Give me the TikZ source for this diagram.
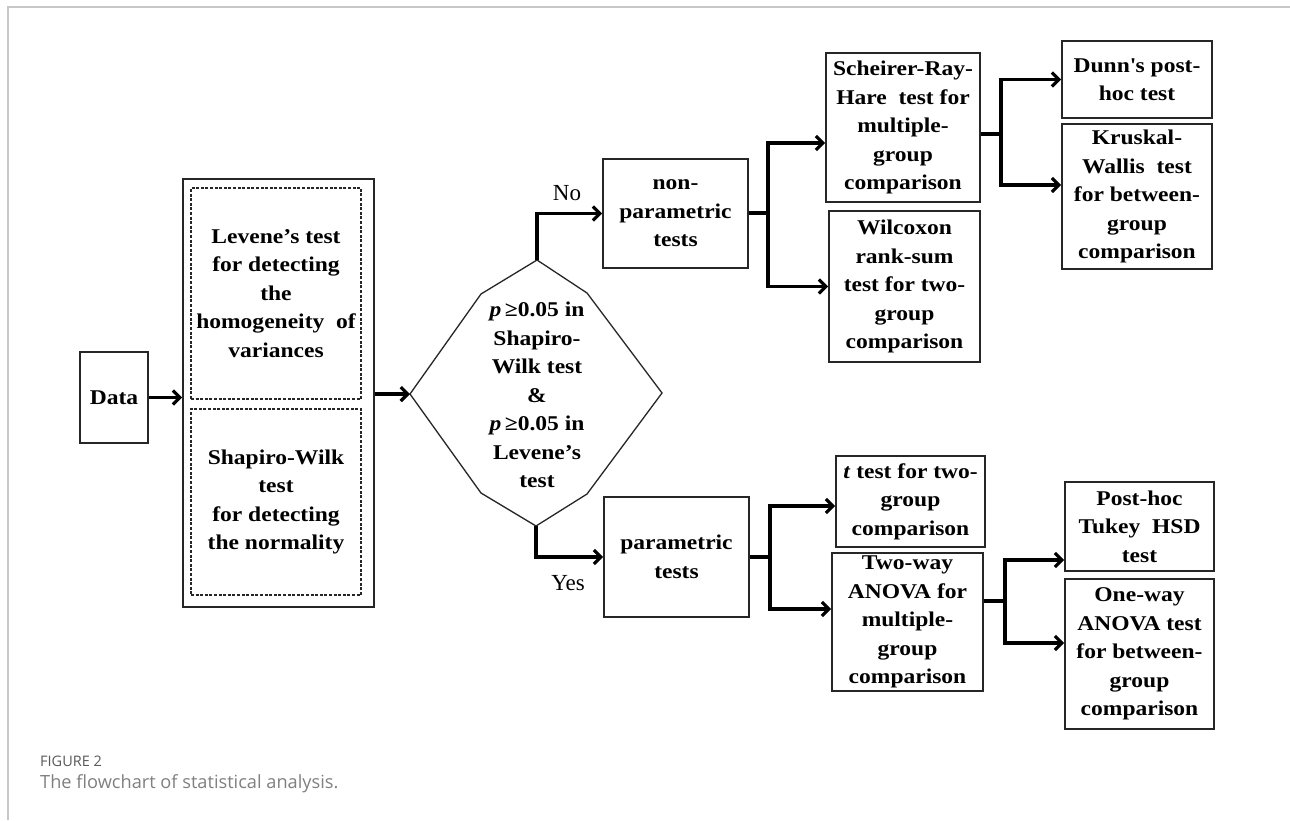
\documentclass[tikz,border=0pt]{standalone}
\usepackage{fontspec}
\setmainfont{Liberation Serif}
\newfontfamily\boxserif{Liberation Serif}[FakeStretch=1.12]
\newfontfamily\capfont{Open Sans}
\usetikzlibrary{arrows.meta,calc}
\newcommand{\bxfont}{\boxserif\fontsize{21}{28.5}\selectfont\bfseries}
\begin{document}
\begin{tikzpicture}[x=1pt,y=-1pt,
  box/.style={draw=black!85,line width=1.6pt,align=center,inner sep=0pt,font=\bxfont},
  dbox/.style={draw=black!85,line width=1.1pt,dash pattern=on 3pt off 1.6pt,align=center,inner sep=0pt,font=\bxfont},
  arr/.style={line width=3.2pt,-{Straight Barb[length=7pt,width=14pt]}},
  ln/.style={line width=3.2pt},
  lbl/.style={font=\fontsize{23}{28}\selectfont,inner sep=0pt}]
\fill[white] (0,0) rectangle (1290,820);
\useasboundingbox (0,0) rectangle (1290,820);
\draw[black!22,line width=1.5pt] (8,820) -- (8,7) -- (1290,7);

% nodes
\node[box,minimum width=68pt,minimum height=91pt] (data) at (114,397.5) {Data};
\node[box,minimum width=191pt,minimum height=428pt] (outer) at (278.5,393) {};
\node[dbox,minimum width=170pt,minimum height=211pt] (lev) at (276,293.5) {Levene’s test\\for detecting\\the\\homogeneity\ \ of\\variances};
\node[dbox,minimum width=170pt,minimum height=186pt] (shw) at (276,502) {Shapiro-Wilk\\test\\for detecting\\the normality};

\coordinate (dT) at (537,260);
\coordinate (dTR) at (587,293);
\coordinate (dR) at (662,393);
\coordinate (dBR) at (587,494);
\coordinate (dB) at (536,526);
\coordinate (dBL) at (481,493);
\coordinate (dL) at (410,394);
\coordinate (dTL) at (481,294);
\draw[black!85,line width=1.3pt] (dT)--(dTR)--(dR)--(dBR)--(dB)--(dBL)--(dL)--(dTL)--cycle;
\node[align=center,font=\bxfont,inner sep=0pt] (dtext) at (537,395) {\textit{p}\,≥0.05 in\\Shapiro-\\Wilk test\\\&\\\textit{p}\,≥0.05 in\\Levene’s\\test};

\node[box,minimum width=145pt,minimum height=109pt] (np) at (675.5,213.5) {non-\\parametric\\tests};
\node[box,minimum width=145pt,minimum height=120pt] (par) at (676.5,557) {parametric\\tests};

\node[box,minimum width=154pt,minimum height=149pt] (sch) at (903,127.5) {Scheirer-Ray-\\Hare\ \ test for\\multiple-\\group\\comparison};
\node[box,minimum width=151pt,minimum height=151pt] (wil) at (904.5,286.5) {Wilcoxon\\rank-sum\\test for two-\\group\\comparison};
\node[box,minimum width=150pt,minimum height=77pt] (dunn) at (1137,79.5) {Dunn\textquotesingle s post-\\hoc test};
\node[box,minimum width=150pt,minimum height=145pt] (krus) at (1137,196.5) {Kruskal-\\Wallis\ \ test\\for between-\\group\\comparison};

\node[box,minimum width=149pt,minimum height=91pt] (tt) at (910.5,501.5) {\textit{t} test for two-\\group\\comparison};
\node[box,minimum width=151pt,minimum height=138pt] (two) at (907.5,622) {Two-way\\ANOVA for\\multiple-\\group\\comparison};
\node[box,minimum width=149pt,minimum height=89pt] (post) at (1139.5,526.5) {Post-hoc\\Tukey\ \ HSD\\test};
\node[box,minimum width=149pt,minimum height=150pt] (one) at (1139.5,654) {One-way\\ANOVA test\\for between-\\group\\comparison};

\node[lbl] (no) at (567,193) {No};
\node[lbl] (yes) at (568,583) {Yes};

% connectors
\draw[arr] (data.east) -- (data.east -| outer.west);
\draw[arr] (outer.east |- dL) -- (dL);
\draw[arr] (dT) |- (np.west);
\draw[arr] (dB) |- (par.west);

\coordinate (b1) at (768,213);
\draw[ln] (np.east |- b1) -- (b1);
\draw[arr] (b1) |- ([yshift=-15.5pt]sch.west);
\draw[arr] (b1) |- (wil.west);

\coordinate (b2) at (1001,134);
\draw[ln] (sch.east |- b2) -- (b2);
\draw[arr] (b2) |- (dunn.west);
\draw[arr] (b2) |- ([yshift=11.5pt]krus.west);

\coordinate (b3) at (770,557);
\draw[ln] (par.east |- b3) -- (b3);
\draw[arr] (b3) |- ([yshift=-4.5pt]tt.west);
\draw[arr] (b3) |- ([yshift=13pt]two.west);

\coordinate (b4) at (1005,601);
\draw[ln] (two.east |- b4) -- (b4);
\draw[arr] (b4) |- ([yshift=-33.5pt]post.west);
\draw[arr] (b4) |- ([yshift=11pt]one.west);

% caption
\node[anchor=west,inner sep=0pt,text=black!65,font=\capfont\fontsize{14.5}{16}\selectfont] (figlab) at (40,761) {FIGURE 2};
\node[anchor=west,inner sep=0pt,text=black!50,font=\capfont\fontsize{18.2}{20}\selectfont] (cap) at (40,784) {The flowchart of statistical analysis.};
\end{tikzpicture}
\end{document}
